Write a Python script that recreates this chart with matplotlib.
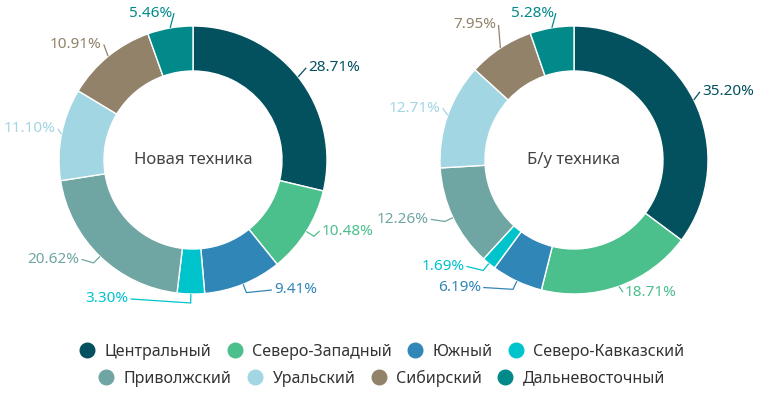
import numpy as np
import matplotlib
matplotlib.use("Agg")
import matplotlib.pyplot as plt
from matplotlib.lines import Line2D

plt.rcParams["font.family"] = ["Noto Sans", "DejaVu Sans"]

regions = ["Центральный", "Северо-Западный", "Южный", "Северо-Кавказский",
           "Приволжский", "Уральский", "Сибирский", "Дальневосточный"]
new_share = [28.71, 10.48, 9.41, 3.30, 20.62, 11.10, 10.91, 5.46]
used_share = [35.20, 18.71, 6.19, 1.69, 12.26, 12.71, 7.95, 5.28]
titles = ["Новая техника", "Б/у техника"]
colors = ["#03505f", "#4bbf8c", "#3186b8", "#00c4cc",
          "#6fa5a2", "#a1d6e2", "#918269", "#018a89"]

W, H = 762, 398
R, RING = 134, 45
centers = [(193, H - 160), (574, H - 160)]
# per-label tweaks (dx, dy in px, forced side) for crowded labels
nudges = [
    {0: (-4, -2, None), 1: (0, 10, None), 2: (24, 11, None), 3: (-62, 13, -1),
     4: (-8, 10, None), 5: (12, 2, None), 6: (5, -2, None), 7: (5, -3, None)},
    {0: (-8, 0, None), 1: (0, 11, None), 2: (-28, 10, -1), 3: (-13, 11, -1),
     4: (-8, 6, None), 5: (10, 1, None), 6: (6, 8, None), 7: (5, -3, None)},
]

fig = plt.figure(figsize=(W / 100, H / 100), dpi=100)
ax = fig.add_axes([0, 0, 1, 1])

for k, (vals, title, c) in enumerate(zip([new_share, used_share], titles, centers)):
    ax.pie(vals, colors=colors, startangle=90, counterclock=False,
           radius=R, center=c,
           wedgeprops=dict(width=RING, edgecolor="white", linewidth=1))
    ax.text(c[0], c[1], title, ha="center", va="center", fontsize=12, color="#444444")

    total = sum(vals)
    cum = np.cumsum([0] + list(vals))
    for i, v in enumerate(vals):
        ang = np.deg2rad((cum[i] + v / 2) / total * 360)
        ux, uy = np.sin(ang), np.cos(ang)
        p0 = (c[0] + R * ux, c[1] + R * uy)
        p1 = (c[0] + (R + 9) * ux, c[1] + (R + 9) * uy)
        tx, ty = c[0] + (R + 18) * ux, c[1] + (R + 18) * uy
        side = 1 if ux >= 0 else -1
        dx, dy, fs = nudges[k].get(i, (0, 0, None))
        if fs is not None:
            side = fs
        tx += dx
        ty += dy
        end = (tx - side * 2, ty)
        # skip the elbow when it would run past the label
        if side * (end[0] - p1[0]) < 3:
            pts = [p0, end]
        else:
            pts = [p0, p1, end]
        ax.plot([p[0] for p in pts], [p[1] for p in pts],
                color=colors[i], lw=0.9, solid_capstyle="butt")
        ax.text(tx, ty, f"{v:.2f}%", ha="left" if side > 0 else "right",
                va="center", fontsize=11, color=colors[i])

ax.set_xlim(0, W)
ax.set_ylim(0, H)
ax.set_aspect("equal")
ax.axis("off")

handles = [Line2D([], [], marker="o", ls="", markersize=10.5,
                  markerfacecolor=col, markeredgecolor=col) for col in colors]
leg_kw = dict(frameon=False, handletextpad=0.5, columnspacing=0.85,
              fontsize=11.5, labelcolor="#333333", handlelength=1.2,
              borderaxespad=0, borderpad=0)
fig.legend(handles[:4], regions[:4], ncol=4, loc="center",
           bbox_to_anchor=(0.5, 1 - 352 / H), **leg_kw)
fig.legend(handles[4:], regions[4:], ncol=4, loc="center",
           bbox_to_anchor=(0.5, 1 - 378 / H), **leg_kw)

fig.savefig("out.png", dpi=100)
